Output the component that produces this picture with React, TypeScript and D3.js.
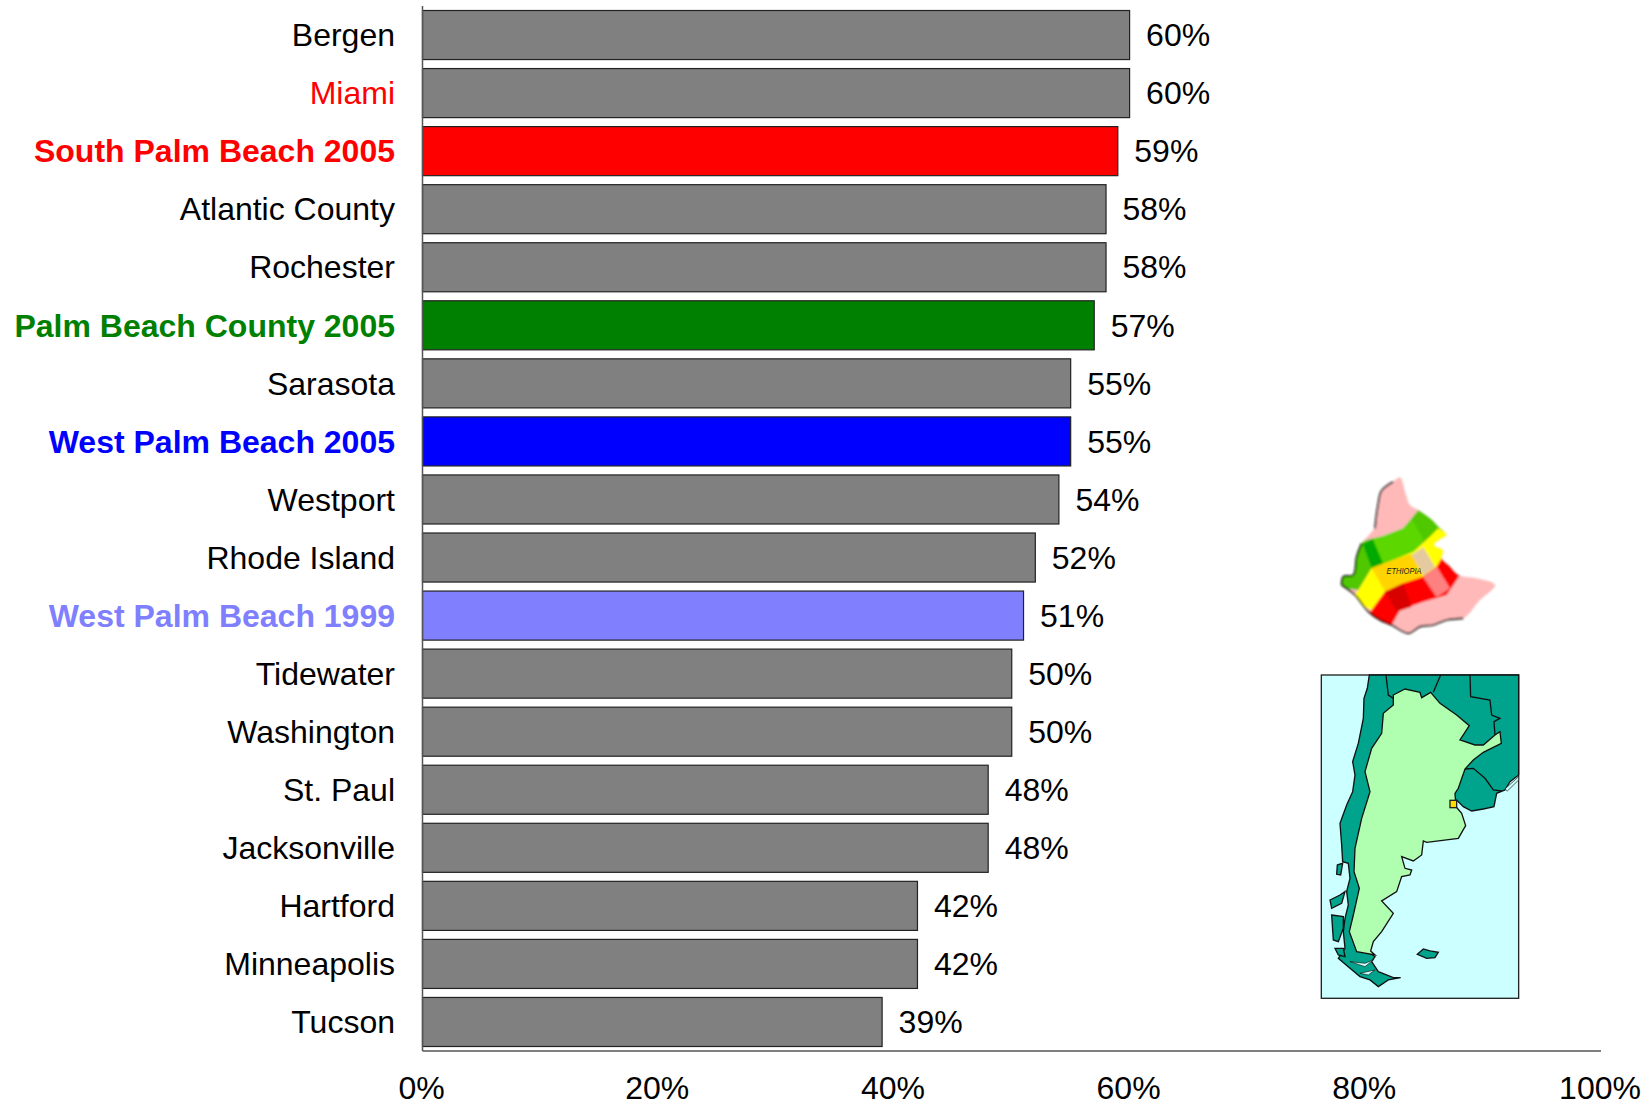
import React from "react"
import * as d3 from "d3"

const cities = [
  "Bergen", "Miami", "South Palm Beach 2005", "Atlantic County", "Rochester", "Palm Beach County 2005",
  "Sarasota", "West Palm Beach 2005", "Westport", "Rhode Island", "West Palm Beach 1999", "Tidewater",
  "Washington", "St. Paul", "Jacksonville", "Hartford", "Minneapolis", "Tucson",
]
const shares = [60, 60, 59, 58, 58, 57, 55, 55, 54, 52, 51, 50, 50, 48, 48, 42, 42, 39]
const xTicks = [0, 20, 40, 60, 80, 100]

const barColors: Record<string, string> = {
  "South Palm Beach 2005": "#ff0000",
  "Palm Beach County 2005": "#008000",
  "West Palm Beach 2005": "#0000ff",
  "West Palm Beach 1999": "#8080ff",
}
const labelColors: Record<string, string> = { ...barColors, Miami: "#ff0000" }

const width = 1650
const height = 1103
const font = "'Liberation Sans', Arial, sans-serif"

const x = d3.scaleLinear().domain([0, 100]).range([422.5, 1601])
const y = d3.scaleBand().domain(cities).range([6, 1051]).paddingInner(0.155).paddingOuter(0.0775)

type Pt = [number, number]
const smooth = d3.line().curve(d3.curveCatmullRomClosed.alpha(0.5))
const smoothOpen = d3.line().curve(d3.curveCatmullRom.alpha(0.5))
const closed = (pts: Pt[]) => d3.line()(pts) + "Z"

// illustration outlines, in pixels of the source pictures
const ethiopia: Pt[] = [
  [300, 52], [318, 105], [330, 135], [355, 150], [390, 175], [415, 200], [440, 225], [425, 235], [402, 255], [430, 272],
  [425, 295], [450, 320], [475, 345], [530, 355], [585, 375], [540, 420], [490, 475], [440, 480], [400, 495], [360, 500],
  [325, 520], [275, 495], [240, 480], [205, 455], [165, 405], [125, 375], [130, 350], [160, 345], [170, 290], [185, 250],
  [225, 200], [235, 130], [245, 92], [280, 65],
]
const ethiopiaBands: { fill: string; pts: Pt[] }[] = [
  { fill: "#ffb9b9", pts: [[100, 30], [620, 30], [620, 540], [100, 540]] },
  { fill: "#4fc800", pts: [[150, 265], [200, 240], [250, 228], [310, 205], [335, 175], [355, 150], [450, 205], [385, 235], [340, 275], [280, 300], [215, 325], [175, 390], [100, 380]] },
  { fill: "#5cd800", pts: [[218, 236], [250, 228], [310, 205], [335, 178], [372, 240], [340, 275], [280, 300], [250, 312]] },
  { fill: "#00aa00", pts: [[188, 252], [218, 236], [250, 312], [215, 325]] },
  { fill: "#ffff00", pts: [[175, 390], [215, 325], [280, 300], [340, 275], [385, 235], [415, 205], [450, 225], [425, 295], [410, 320], [370, 350], [310, 370], [255, 395], [215, 450], [150, 420]] },
  { fill: "#ffd400", pts: [[215, 325], [280, 300], [335, 282], [370, 350], [310, 370], [255, 395]] },
  { fill: "#e5c9a0", pts: [[335, 285], [370, 262], [405, 320], [372, 348]] },
  { fill: "#ff0000", pts: [[215, 450], [255, 395], [310, 370], [370, 350], [410, 320], [425, 295], [480, 345], [440, 405], [370, 425], [300, 450], [275, 495], [200, 470]] },
  { fill: "#d90000", pts: [[255, 395], [310, 370], [335, 440], [290, 455]] },
  { fill: "#ff8080", pts: [[370, 352], [410, 320], [450, 385], [410, 412]] },
]
const ethiopiaShadow: Pt[][] = [
  [[125, 375], [130, 350], [160, 345], [170, 290], [185, 250]],
  [[225, 205], [235, 130], [245, 92], [280, 65]],
  [[125, 375], [165, 405], [205, 455], [240, 480], [275, 495], [325, 520], [360, 500], [400, 495], [440, 480], [490, 475]],
]

const southAmerica: Pt[] = [
  [178, 30], [626, 30], [626, 330], [600, 350], [585, 375], [560, 385], [552, 425], [520, 432], [485, 438], [460, 425], [440, 405],
  [300, 500], [160, 840], [185, 868], [195, 875], [185, 890], [205, 920], [250, 938], [272, 938], [235, 945], [205, 965], [180, 945],
  [150, 935], [120, 910], [85, 880], [105, 850], [100, 800], [105, 760], [115, 720], [110, 680], [120, 640], [115, 595], [98, 590],
  [95, 540], [90, 475], [110, 420], [128, 380], [135, 330], [128, 290], [145, 235], [160, 160], [162, 100], [172, 70],
]
const argentina: Pt[] = [
  [250, 90], [285, 72], [330, 82], [335, 98], [362, 82], [390, 115], [440, 150], [478, 182], [450, 225], [495, 240], [520, 240], [555, 210],
  [570, 200], [574, 235], [520, 262], [490, 285], [465, 312], [445, 370], [435, 385], [438, 425], [455, 445], [467, 482], [445, 520], [350, 532],
  [340, 528], [335, 570], [310, 588], [275, 575], [285, 610], [305, 615], [300, 630], [275, 635], [260, 680], [215, 708], [250, 745], [215, 800],
  [190, 830], [182, 858], [195, 870], [140, 860], [118, 800], [130, 750], [148, 670], [132, 620], [135, 550], [155, 460], [180, 380], [165, 320],
  [185, 250], [215, 205], [220, 145], [250, 120],
]
const borders: Pt[][] = [
  [[228, 30], [235, 90], [250, 100]],
  [[392, 30], [370, 82]],
  [[480, 30], [482, 95], [540, 105], [545, 150], [570, 160], [552, 170], [555, 210]],
  [[465, 312], [490, 310], [525, 340], [550, 375], [575, 378]],
]
const islands: Pt[][] = [
  [[322, 868], [340, 852], [360, 858], [385, 862], [375, 878], [350, 880]],
  [[82, 600], [98, 595], [92, 630], [80, 628]],
  [[60, 705], [90, 690], [105, 680], [95, 715], [65, 730]],
  [[65, 750], [100, 755], [100, 790], [85, 830], [70, 825]],
  [[75, 850], [100, 850], [105, 875], [85, 870]],
]
const inlets: Pt[][] = [
  [[585, 372], [626, 335], [626, 345], [592, 378]],
  [[120, 890], [165, 905], [190, 885], [165, 895]],
  [[150, 925], [195, 915], [175, 930]],
]

export default function App() {
  return (
    <svg width={width} height={height} style={{ position: "absolute", left: 0, top: 0, background: "#fff" }} fontFamily={font}>
      <defs>
        <filter id="soft">
          <feGaussianBlur stdDeviation="2.5" />
        </filter>
      </defs>
      {cities.map((city, i) => (
        <g key={city}>
          <rect
            x={x(0)}
            y={y(city)}
            width={x(shares[i]) - x(0)}
            height={y.bandwidth()}
            fill={barColors[city] ?? "#808080"}
            stroke="#222"
            strokeWidth={1.2}
          />
          <text
            x={395}
            y={y(city)! + y.bandwidth() / 2}
            dy="0.35em"
            textAnchor="end"
            fontSize={32}
            fontWeight={barColors[city] ? "bold" : "normal"}
            fill={labelColors[city] ?? "#000"}
          >
            {city}
          </text>
          <text x={x(shares[i]) + 16.5} y={y(city)! + y.bandwidth() / 2} dy="0.35em" fontSize={32} fill="#000">
            {shares[i]}%
          </text>
        </g>
      ))}

      <line x1={x(0)} x2={x(0)} y1={6} y2={1051} stroke="#555" strokeWidth={1.5} />
      <line x1={x(0)} x2={x(100)} y1={1051} y2={1051} stroke="#555" strokeWidth={1.5} />
      {xTicks.map(t => (
        <text key={t} x={x(t) - 1} y={1088} dy="0.35em" textAnchor="middle" fontSize={32} fill="#000">
          {t}%
        </text>
      ))}

      <g transform="translate(1300,460) scale(0.3333)">
        <clipPath id="eth">
          <path d={smooth(ethiopia)!} />
        </clipPath>
        <g filter="url(#soft)">
          <g clipPath="url(#eth)">
            {ethiopiaBands.map(b => (
              <path key={b.fill} d={closed(b.pts)} fill={b.fill} />
            ))}
          </g>
          {ethiopiaShadow.map((s, i) => (
            <path key={i} d={smoothOpen(s)!} fill="none" stroke="#111" strokeWidth={5} />
          ))}
        </g>
        <text x={312} y={342} textAnchor="middle" fontSize={25} fontStyle="italic" textLength={105} lengthAdjust="spacingAndGlyphs" fill="#222">
          ETHIOPIA
        </text>
      </g>

      <g transform="translate(1310,665) scale(0.3333)">
        <rect x={34} y={30} width={592} height={970} fill="#ccffff" stroke="#222" strokeWidth={4} />
        <path d={closed(southAmerica)} fill="#00a38c" stroke="#111" strokeWidth={4} />
        {inlets.map((d, i) => (
          <path key={i} d={closed(d)} fill="#ccffff" stroke="#111" strokeWidth={2} />
        ))}
        <path d={closed(argentina)} fill="#b0ffb0" stroke="#111" strokeWidth={4} />
        {borders.map((d, i) => (
          <path key={i} d={d3.line()(d)!} fill="none" stroke="#111" strokeWidth={4} />
        ))}
        {islands.map((d, i) => (
          <path key={i} d={closed(d)} fill="#00a38c" stroke="#111" strokeWidth={4} />
        ))}
        <rect x={420} y={406} width={20} height={22} fill="#ffdd00" stroke="#222" strokeWidth={4} />
      </g>
    </svg>
  )
}
